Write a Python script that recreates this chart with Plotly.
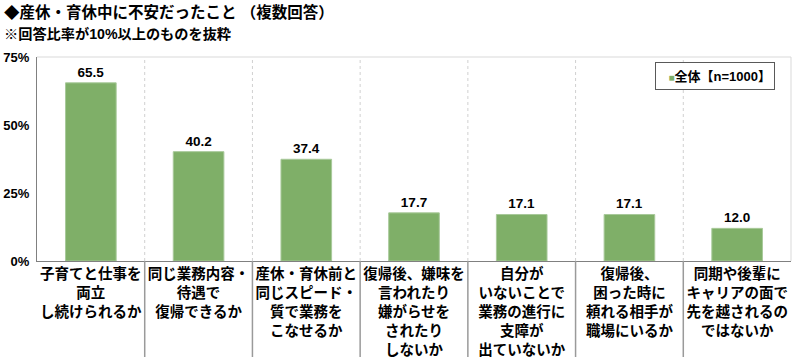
import plotly.graph_objects as go

categories = [
    "子育てと仕事を<br>両立<br>し続けられるか",
    "同じ業務内容・<br>待遇で<br>復帰できるか",
    "産休・育休前と<br>同じスピード・<br>質で業務を<br>こなせるか",
    "復帰後、嫌味を<br>言われたり<br>嫌がらせを<br>されたり<br>しないか",
    "自分が<br>いないことで<br>業務の進行に<br>支障が<br>出ていないか",
    "復帰後、<br>困った時に<br>頼れる相手が<br>職場にいるか",
    "同期や後輩に<br>キャリアの面で<br>先を越されるの<br>ではないか",
]
values = [65.5, 40.2, 37.4, 17.7, 17.1, 17.1, 12.0]
series_name = "全体【n=1000】"
y_ticks = [0, 25, 50, 75]
y_tick_labels = ["0%", "25%", "50%", "75%"]

FONT = "Liberation Sans, Arial, Noto Sans CJK JP, sans-serif"
GREEN = "#7FAF68"

fig = go.Figure()
fig.add_trace(go.Bar(
    x=list(range(len(categories))), y=values, name=series_name,
    marker=dict(color=GREEN, line=dict(color="#A8C99A", width=1)),
    texttemplate="%{y:.1f}", textposition="outside",
    textfont=dict(family=FONT, size=13.5, color="#000000", weight="bold"),
    cliponaxis=False, showlegend=False,
))

n = len(categories)
for i in range(n - 1):
    fig.add_shape(type="line", xref="x", yref="y", x0=i + 0.5, x1=i + 0.5,
                  y0=0, y1=75, line=dict(color="#D0D0D0", width=1, dash="dot"))
    fig.add_shape(type="line", xref="x", yref="paper", x0=i + 0.5, x1=i + 0.5,
                  y0=0, y1=-0.48, line=dict(color="#9A9A9A", width=1.5))

fig.add_shape(type="line", xref="paper", yref="paper", x0=0, x1=1, y0=1, y1=1,
              line=dict(color="#D9D9D9", width=1))
fig.add_shape(type="line", xref="paper", yref="paper", x0=1, x1=1, y0=0, y1=1,
              line=dict(color="#D9D9D9", width=1))

fig.add_annotation(text="◆産休・育休中に不安だったこと （複数回答）", xref="paper", yref="paper",
                   x=-0.046, y=1.22, xanchor="left", yanchor="middle", showarrow=False,
                   font=dict(family=FONT, size=15.5, color="#000000", weight="bold"))
fig.add_annotation(text="※回答比率が10%以上のものを抜粋", xref="paper", yref="paper",
                   x=-0.046, y=1.115, xanchor="left", yanchor="middle", showarrow=False,
                   font=dict(family=FONT, size=14.2, color="#000000", weight="bold"))

# legend box
fig.add_annotation(
    text=f"<span style='color:{GREEN};font-size:10px'>■</span>{series_name}",
    xref="paper", yref="paper", x=0.8196, y=0.9755, xanchor="left", yanchor="top",
    showarrow=False, align="right", width=112, height=20, borderpad=3,
    bordercolor="#595959", borderwidth=1, bgcolor="white",
    font=dict(family=FONT, size=13, color="#000000", weight="bold"),
)

fig.update_layout(
    width=800, height=357,
    margin=dict(l=37, r=9, t=57, b=96, autoexpand=False),
    paper_bgcolor="white", plot_bgcolor="white",
    bargap=0.53,
    font=dict(family=FONT, color="#000000"),
    xaxis=dict(
        tickmode="array", tickvals=list(range(n)), ticktext=categories,
        range=[-0.5, n - 0.5], showgrid=False, ticks="", tickangle=0,
        showline=True, linecolor="#808080", linewidth=1, automargin=False,
        tickfont=dict(family=FONT, size=14.5, color="#000000", weight="bold"),
        fixedrange=True,
    ),
    yaxis=dict(
        range=[0, 75], tickvals=y_ticks, ticktext=y_tick_labels, automargin=False,
        showgrid=False, zeroline=False, showline=True, linecolor="#808080", linewidth=1,
        ticks="", ticklen=0, ticklabelstandoff=4,
        tickfont=dict(family=FONT, size=13, color="#000000", weight="bold"),
    ),
    showlegend=False,
)

fig.write_html("out.html", config={"displayModeBar": False},
               post_script="document.body.style.margin='0';")
